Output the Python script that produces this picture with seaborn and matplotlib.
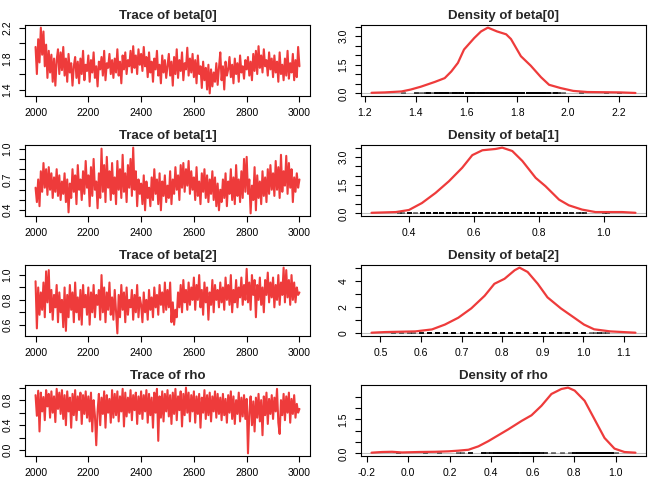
import numpy as np
import matplotlib
matplotlib.use("Agg")
import matplotlib.pyplot as plt
import seaborn as sns

# MCMC draws (thinned to every 5th iteration)
iterations = list(range(2000, 3001, 5))

beta0 = [1.95, 1.60, 2.05, 1.75, 2.20, 1.85, 2.15, 1.70, 1.98, 1.55, 1.90, 1.62, 1.85, 1.50, 1.80, 1.45, 1.78, 1.92, 1.60, 1.88,
         1.65, 1.95, 1.58, 1.80, 1.50, 1.86, 1.62, 1.74, 1.45, 1.70, 1.82, 1.55, 1.76, 1.48, 1.80, 1.60, 1.90, 1.52, 1.72, 1.64,
         1.84, 1.50, 1.78, 1.62, 1.88, 1.55, 1.70, 1.44, 1.76, 1.66, 1.82, 1.58, 1.90, 1.52, 1.74, 1.68, 1.86, 1.60, 1.78, 1.55,
         1.80, 1.62, 1.92, 1.58, 1.76, 1.48, 1.84, 1.66, 1.88, 1.60, 1.78, 1.70, 1.90, 1.62, 1.96, 1.68, 1.84, 1.60, 1.92, 1.72,
         1.86, 1.64, 1.95, 1.70, 1.82, 1.56, 1.88, 1.62, 1.76, 1.50, 1.80, 1.66, 1.90, 1.58, 1.72, 1.48, 1.84, 1.62, 1.78, 1.55,
         1.70, 1.86, 1.58, 1.76, 1.45, 1.82, 1.60, 1.92, 1.55, 1.78, 1.64, 1.88, 1.52, 1.74, 1.66, 1.94, 1.58, 1.80, 1.62, 1.86,
         1.56, 1.78, 1.48, 1.84, 1.60, 1.70, 1.42, 1.76, 1.52, 1.68, 1.40, 1.72, 1.35, 1.66, 1.44, 1.62, 1.50, 1.74, 1.46, 1.68,
         1.88, 1.52, 1.70, 1.40, 1.76, 1.58, 1.66, 1.82, 1.56, 1.72, 1.48, 1.80, 1.60, 1.74, 1.50, 1.84, 1.62, 1.70, 1.54, 1.78,
         1.66, 1.82, 1.58, 1.76, 1.52, 1.86, 1.64, 1.90, 1.60, 1.96, 1.68, 1.84, 1.62, 1.92, 1.70, 1.78, 1.58, 1.88, 1.66, 1.80,
         1.56, 1.84, 1.62, 1.76, 1.50, 1.88, 1.60, 1.72, 1.52, 1.80, 1.58, 1.90, 1.54, 1.74, 1.62, 1.86, 1.52, 1.78, 1.56, 1.95, 1.70]

beta1 = [0.62, 0.48, 0.70, 0.44, 0.78, 0.58, 0.86, 0.62, 0.80, 0.55, 0.82, 0.60, 0.76, 0.52, 0.72, 0.58, 0.80, 0.54, 0.74, 0.50,
         0.68, 0.56, 0.76, 0.48, 0.70, 0.38, 0.66, 0.52, 0.80, 0.58, 0.74, 0.46, 0.84, 0.60, 0.70, 0.50, 0.78, 0.56, 0.88, 0.62,
         0.74, 0.44, 0.82, 0.54, 0.90, 0.60, 0.68, 0.42, 0.76, 0.52, 1.00, 0.58, 0.84, 0.48, 0.92, 0.62, 0.78, 0.50, 0.86, 0.56,
         0.72, 0.46, 0.88, 0.60, 0.80, 0.52, 0.94, 0.58, 0.76, 0.48, 0.84, 0.62, 0.90, 0.54, 1.01, 0.60, 0.78, 0.44, 0.70, 0.56,
         0.66, 0.46, 0.74, 0.40, 0.68, 0.52, 0.62, 0.44, 0.72, 0.50, 0.80, 0.56, 0.70, 0.46, 0.76, 0.40, 0.68, 0.54, 0.74, 0.48,
         0.64, 0.52, 0.78, 0.46, 0.70, 0.56, 0.82, 0.60, 0.74, 0.50, 0.84, 0.62, 0.86, 0.58, 0.80, 0.64, 0.88, 0.56, 0.78, 0.60,
         0.72, 0.50, 0.82, 0.54, 0.68, 0.46, 0.76, 0.58, 0.80, 0.52, 0.74, 0.48, 0.70, 0.56, 0.78, 0.50, 0.72, 0.44, 0.66, 0.40,
         0.60, 0.48, 0.70, 0.52, 0.76, 0.44, 0.68, 0.56, 0.80, 0.50, 0.72, 0.46, 0.84, 0.54, 0.70, 0.48, 0.78, 0.52, 0.90, 0.58,
         0.92, 0.56, 0.70, 0.37, 0.64, 0.50, 0.82, 0.40, 0.74, 0.52, 0.68, 0.46, 0.78, 0.54, 0.72, 0.48, 0.80, 0.56, 0.84, 0.60,
         0.76, 0.54, 0.88, 0.60, 0.82, 0.52, 0.94, 0.58, 0.78, 0.64, 0.93, 0.56, 0.86, 0.62, 0.80, 0.48, 0.72, 0.58, 0.76, 0.62, 0.70]

beta2 = [0.95, 0.57, 0.90, 0.68, 0.86, 0.72, 0.94, 0.66, 1.03, 0.78, 1.04, 0.70, 0.88, 0.64, 0.84, 0.74, 0.92, 0.62, 0.86, 0.70,
         0.80, 0.58, 0.90, 0.55, 0.84, 0.66, 0.92, 0.72, 0.86, 0.62, 0.94, 0.70, 0.82, 0.64, 0.88, 0.60, 0.92, 0.74, 0.84, 0.68,
         0.90, 0.60, 0.86, 0.70, 0.92, 0.66, 0.84, 0.76, 0.88, 0.64, 1.00, 0.70, 0.90, 0.62, 0.86, 0.72, 0.94, 0.68, 0.82, 0.64,
         0.88, 0.70, 0.53, 0.84, 0.66, 0.92, 0.72, 0.86, 0.62, 0.90, 0.68, 0.80, 0.74, 0.88, 0.64, 0.84, 0.70, 0.92, 0.66, 0.82,
         0.76, 0.62, 0.86, 0.70, 0.80, 0.64, 0.88, 0.72, 0.82, 0.66, 0.90, 0.74, 0.84, 0.68, 0.92, 0.76, 0.86, 0.70, 0.94, 0.72,
         0.88, 0.74, 0.94, 0.62, 0.78, 0.60, 0.72, 0.66, 0.86, 0.74, 0.92, 0.70, 0.96, 0.78, 0.88, 0.72, 0.94, 0.76, 0.90, 0.80,
         0.98, 0.72, 0.92, 0.80, 1.00, 0.74, 0.88, 0.68, 0.94, 0.78, 0.90, 0.64, 0.86, 0.76, 0.96, 0.70, 0.92, 0.80, 0.88, 0.74,
         0.94, 0.78, 0.90, 0.72, 0.98, 0.80, 0.92, 0.76, 1.00, 0.70, 0.88, 0.78, 0.96, 0.74, 0.90, 0.82, 0.98, 0.76, 0.92, 0.80,
         1.05, 0.78, 0.94, 0.72, 1.00, 0.84, 0.96, 0.66, 0.92, 0.80, 0.98, 0.76, 0.90, 0.70, 0.96, 0.84, 1.02, 0.78, 0.94, 0.82,
         0.98, 0.74, 0.92, 0.80, 1.00, 0.76, 0.94, 0.84, 1.06, 0.78, 1.04, 0.82, 0.96, 0.76, 1.00, 0.80, 0.94, 0.78, 0.90, 0.84, 0.86]

rho = [0.88, 0.55, 0.95, 0.30, 0.92, 0.62, 0.85, 0.48, 0.96, 0.70, 0.90, 0.52, 0.94, 0.60, 0.86, 0.45, 0.98, 0.66, 0.92, 0.58,
       0.96, 0.50, 0.88, 0.40, 0.94, 0.62, 0.84, 0.36, 0.90, 0.56, 0.96, 0.48, 0.86, 0.64, 0.92, 0.42, 0.88, 0.58, 0.94, 0.52,
       0.86, 0.46, 0.92, 0.30, 0.80, 0.55, 0.08, 0.62, 0.90, 0.40, 0.84, 0.58, 0.94, 0.36, 0.88, 0.60, 0.82, 0.44, 0.96, 0.52,
       0.90, 0.56, 0.94, 0.46, 0.86, 0.62, 0.98, 0.38, 0.92, 0.54, 0.84, 0.60, 0.96, 0.48, 0.88, 0.64, 0.92, 0.42, 0.86, 0.58,
       0.94, 0.50, 0.88, 0.62, 0.96, 0.44, 0.90, 0.56, 0.84, 0.36, 0.92, 0.60, 0.98, 0.15, 0.86, 0.52, 0.94, 0.46, 0.90, 0.62,
       0.96, 0.54, 0.88, 0.42, 0.92, 0.58, 0.98, 0.48, 0.86, 0.64, 0.94, 0.38, 0.90, 0.56, 1.00, 0.60, 0.92, 0.46, 0.88, 0.62,
       0.94, 0.44, 0.86, 0.58, 0.90, 0.36, 0.84, 0.60, 0.96, 0.50, 0.88, 0.56, 0.92, 0.46, 0.86, 0.62, 0.94, 0.52, 0.90, 0.58,
       0.84, 0.48, 0.90, 0.56, 0.82, 0.44, 0.88, 0.60, 0.94, 0.50, 0.86, 0.42, 0.80, 0.58, 0.92, 0.46, 0.84, 0.54, 0.88, 0.50,
       0.82, -0.05, 0.60, 0.86, 0.40, 0.78, 0.30, 0.84, 0.52, 0.90, 0.46, 0.80, 0.24, 0.86, 0.56, 0.92, 0.42, 0.82, 0.58, 0.88,
       0.50, 0.84, 0.62, 0.98, 0.44, 0.26, 0.80, 0.56, 0.90, 0.48, 0.86, 0.60, 0.92, 0.44, 0.82, 0.58, 0.88, 0.52, 0.74, 0.60, 0.66]

# kernel density curves as drawn in the right-hand panels
dens_x_beta0 = [1.226, 1.278, 1.344, 1.38, 1.42, 1.475, 1.514, 1.54, 1.566, 1.59, 1.63, 1.657, 1.684, 1.72, 1.756,
                1.775, 1.814, 1.853, 1.893, 1.925, 1.97, 2.02, 2.076, 2.205, 2.265]
dens_y_beta0 = [0.03, 0.05, 0.1, 0.2, 0.35, 0.6, 0.8, 1.15, 1.6, 2.3, 2.9, 3.25, 3.45, 3.25, 3.1,
                2.85, 1.95, 1.45, 0.85, 0.45, 0.28, 0.13, 0.07, 0.05, 0.02]

dens_x_beta1 = [0.285, 0.36, 0.40, 0.44, 0.482, 0.523, 0.564, 0.595, 0.626, 0.667, 0.687, 0.718, 0.749, 0.79,
                0.82, 0.862, 0.892, 0.933, 0.974, 1.056, 1.097]
dens_y_beta1 = [0.03, 0.07, 0.18, 0.55, 1.09, 1.71, 2.43, 3.1, 3.36, 3.43, 3.5, 3.32, 2.79, 1.89,
                1.45, 0.73, 0.43, 0.2, 0.07, 0.07, 0.03]

dens_x_beta2 = [0.478, 0.512, 0.586, 0.627, 0.659, 0.692, 0.724, 0.757, 0.781, 0.806, 0.831, 0.843, 0.863, 0.888,
                0.912, 0.945, 0.978, 1.002, 1.027, 1.067, 1.129]
dens_y_beta2 = [0.05, 0.1, 0.15, 0.3, 0.67, 1.19, 1.9, 2.86, 3.77, 4.15, 4.8, 5.0, 4.67, 3.77,
                2.74, 1.9, 1.19, 0.67, 0.31, 0.15, 0.05]

dens_x_rho = [-0.176, -0.125, -0.077, -0.029, 0.051, 0.131, 0.195, 0.243, 0.291, 0.339, 0.387, 0.435, 0.483,
              0.547, 0.595, 0.643, 0.691, 0.739, 0.771, 0.803, 0.851, 0.899, 0.947, 0.995, 1.043, 1.096]
dens_y_rho = [0.03, 0.06, 0.07, 0.04, 0.06, 0.07, 0.09, 0.12, 0.16, 0.31, 0.54, 0.8, 1.06,
              1.43, 1.68, 2.1, 2.62, 2.84, 2.9, 2.77, 2.32, 1.5, 0.68, 0.21, 0.06, 0.03]

names = ["beta[0]", "beta[1]", "beta[2]", "rho"]
draws = [beta0, beta1, beta2, rho]
dens_x = [dens_x_beta0, dens_x_beta1, dens_x_beta2, dens_x_rho]
dens_y = [dens_y_beta0, dens_y_beta1, dens_y_beta2, dens_y_rho]

trace_xticks = [2000, 2200, 2400, 2600, 2800, 3000]
trace_yticks = [[1.4, 1.6, 1.8, 2.0, 2.2],
                [0.4, 0.5, 0.6, 0.7, 0.8, 0.9, 1.0],
                [0.6, 0.7, 0.8, 0.9, 1.0],
                [0.0, 0.2, 0.4, 0.6, 0.8, 1.0]]
trace_ylabels = [["1.4", "", "1.8", "", "2.2"],
                 ["0.4", "", "", "0.7", "", "", "1.0"],
                 ["0.6", "", "0.8", "", "1.0"],
                 ["0.0", "", "0.4", "", "0.8", ""]]
dens_xticks = [[1.2, 1.4, 1.6, 1.8, 2.0, 2.2],
               [0.4, 0.6, 0.8, 1.0],
               [0.5, 0.6, 0.7, 0.8, 0.9, 1.0, 1.1],
               [-0.2, 0.0, 0.2, 0.4, 0.6, 0.8, 1.0]]
dens_yticks = [[0.0, 0.5, 1.0, 1.5, 2.0, 2.5, 3.0, 3.5],
               [0.0, 0.5, 1.0, 1.5, 2.0, 2.5, 3.0, 3.5],
               [0, 1, 2, 3, 4, 5],
               [0.0, 0.5, 1.0, 1.5, 2.0, 2.5]]
dens_ylabels = [["0.0", "", "", "1.5", "", "", "3.0", ""],
                ["0.0", "", "", "1.5", "", "", "3.0", ""],
                ["0", "", "2", "", "4", ""],
                ["0.0", "", "", "1.5", "", ""]]

RED = "#EE3B3B"

sns.set_theme(style="ticks")
plt.rcParams["font.family"] = ["Liberation Sans", "DejaVu Sans"]
plt.rcParams["axes.linewidth"] = 0.8
plt.rcParams["xtick.major.width"] = 0.8
plt.rcParams["ytick.major.width"] = 0.8
plt.rcParams["xtick.major.size"] = 4
plt.rcParams["ytick.major.size"] = 4

fig = plt.figure(figsize=(6.72, 4.8), dpi=100)
W, H = 672.0, 480.0


def r_style(ax, xt, xl, yt, yl):
    # R base graphics look: full box, outward ticks, rotated y labels
    for s in ax.spines.values():
        s.set_visible(True)
        s.set_color("black")
    ax.set_xticks(xt)
    ax.set_xticklabels(xl)
    ax.set_yticks(yt)
    ax.set_yticklabels(yl)
    ax.tick_params(axis="both", direction="out", labelsize=7.5, pad=5, colors="black")
    ax.tick_params(axis="y", labelrotation=90)
    for lab in ax.get_yticklabels():
        lab.set_va("center")
    ax.set_xlabel("")
    ax.set_ylabel("")


for i, name in enumerate(names):
    bottom = 1 - (96 + 120 * i) / H
    height = 71 / H

    # trace panel
    ax = fig.add_axes([25 / W, bottom, 285 / W, height])
    sns.lineplot(x=iterations, y=draws[i], ax=ax, color=RED, lw=1.5, sort=False, estimator=None)
    lo, hi = min(draws[i]), max(draws[i])
    pad = 0.04 * (hi - lo)
    ax.set_xlim(2000 - 40, 3000 + 40)
    ax.set_ylim(lo - pad, hi + pad)
    r_style(ax, trace_xticks, [str(t) for t in trace_xticks], trace_yticks[i], trace_ylabels[i])
    ax.set_title("Trace of " + name, fontsize=9.5, fontweight="bold", pad=4)

    # density panel: zero line, rug of draws, density curve
    ax = fig.add_axes([361 / W, bottom, 285 / W, height])
    ymax = max(dens_y[i])
    ax.axhline(0, color="#BEBEBE", lw=0.8)
    ax.vlines(draws[i], 0, ymax * 0.028, color="black", lw=3.5)
    sns.lineplot(x=dens_x[i], y=dens_y[i], ax=ax, color=RED, lw=1.6, sort=False, estimator=None)
    x0, x1 = dens_x[i][0], dens_x[i][-1]
    ax.set_xlim(x0 - 0.04 * (x1 - x0), x1 + 0.04 * (x1 - x0))
    ax.set_ylim(-0.04 * ymax, 1.04 * ymax)
    r_style(ax, dens_xticks[i], ["%.1f" % t for t in dens_xticks[i]], dens_yticks[i], dens_ylabels[i])
    ax.set_title("Density of " + name, fontsize=9.5, fontweight="bold", pad=4)

fig.savefig("out.png", dpi=100, facecolor="white")
